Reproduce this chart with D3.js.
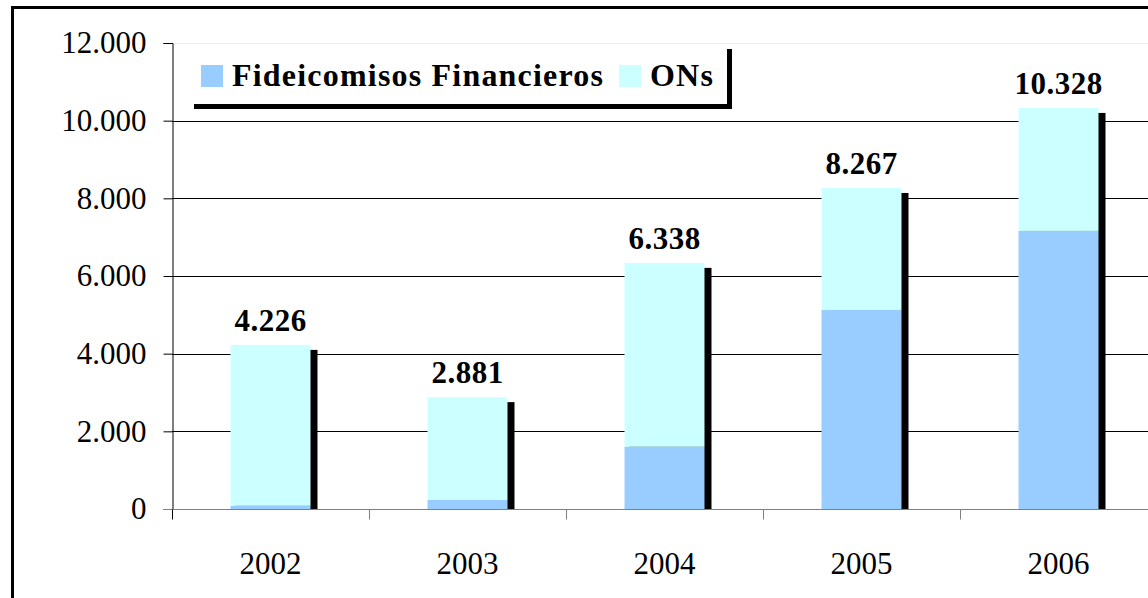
<!DOCTYPE html>
<html>
<head>
<meta charset="utf-8">
<script src="https://cdn.jsdelivr.net/npm/d3@7"></script>
<style>
    body { margin: 0; background: #fff; }
    svg { display: block; }
    text { font-family: "Liberation Serif", "Times New Roman", serif; }
</style>
</head>
<body>
<svg width="1148" height="598"></svg>
<script>
const years = ["2002", "2003", "2004", "2005", "2006"];
const fideicomisos = [80, 232, 1600, 5125, 7160];
const totals = [4226, 2881, 6338, 8267, 10328];
const yTicks = [0, 2000, 4000, 6000, 8000, 10000, 12000];
const seriesNames = ["Fideicomisos Financieros", "ONs"];
const seriesColors = ["#99ccff", "#ccffff"];

const svg = d3.select("svg");

const plotLeft = 172, plotRight = 1157, plotTop = 43, plotBottom = 509;

const x = d3.scaleBand().domain(years).range([plotLeft, plotRight]);
const y = d3.scaleLinear().domain([0, 12000]).range([plotBottom, plotTop]);
const barW = x.bandwidth() * 0.406;

const locale = d3.formatLocale({decimal: ",", thousands: ".", grouping: [3], currency: ["", ""]});
const fmt = locale.format(",d");

let rows = years.map((year, i) => ({
    year,
    ff: fideicomisos[i],
    total: totals[i],
}));

// outer frame
svg.append("rect")
    .attr("x", 12.5).attr("y", 7.5)
    .attr("width", 1160).attr("height", 620)
    .attr("fill", "none")
    .attr("stroke", "#000")
    .attr("stroke-width", 3);

// faint plot area top
svg.append("line")
    .attr("x1", plotLeft).attr("x2", 1148)
    .attr("y1", plotTop + 0.5).attr("y2", plotTop + 0.5)
    .attr("stroke", "#eeeeee");

// gridlines
svg.append("g")
    .selectAll("line")
    .data(yTicks.filter(t => t > 0 && t < 12000))
    .enter().append("line")
    .attr("x1", plotLeft).attr("x2", 1148)
    .attr("y1", d => Math.round(y(d)) + 0.5)
    .attr("y2", d => Math.round(y(d)) + 0.5)
    .attr("stroke", "#000");

// shadows
svg.append("g")
    .selectAll("rect")
    .data(rows)
    .enter().append("rect")
    .attr("x", d => x(d.year) + (x.bandwidth() - barW) / 2 + 5)
    .attr("y", d => y(d.total) + 5)
    .attr("width", barW + 2)
    .attr("height", d => plotBottom + 1 - y(d.total) - 5)
    .attr("fill", "#000");

// ONs (top part)
svg.append("g")
    .selectAll("rect")
    .data(rows)
    .enter().append("rect")
    .attr("x", d => x(d.year) + (x.bandwidth() - barW) / 2)
    .attr("y", d => y(d.total))
    .attr("width", barW)
    .attr("height", d => y(d.ff) - y(d.total))
    .attr("fill", seriesColors[1]);

// Fideicomisos (bottom part)
svg.append("g")
    .selectAll("rect")
    .data(rows)
    .enter().append("rect")
    .attr("x", d => x(d.year) + (x.bandwidth() - barW) / 2)
    .attr("y", d => y(d.ff))
    .attr("width", barW)
    .attr("height", d => plotBottom - y(d.ff))
    .attr("fill", seriesColors[0]);

// value labels
svg.append("g")
    .selectAll("text")
    .data(rows)
    .enter().append("text")
    .attr("x", d => x(d.year) + x.bandwidth() / 2)
    .attr("y", d => y(d.total) - 14)
    .attr("text-anchor", "middle")
    .style("font-size", "31px")
    .style("font-weight", "bold")
    .style("letter-spacing", "0.5px")
    .text(d => fmt(d.total));

// y axis
const yAxis = svg.append("g")
    .attr("transform", `translate(${plotLeft + 0.5},0)`)
    .call(d3.axisLeft(y).tickValues(yTicks).tickFormat(fmt).tickSize(9).tickPadding(17));
yAxis.select(".domain").attr("stroke", "#000");
yAxis.selectAll(".tick line").attr("stroke", "#000");
yAxis.selectAll("text")
    .style("font-size", "31px")
    .style("font-family", "\"Liberation Serif\", serif")
    .attr("fill", "#000");

// x axis
const xAxis = svg.append("g")
    .attr("transform", `translate(0,${plotBottom + 0.5})`);
xAxis.append("line")
    .attr("x1", plotLeft - 9).attr("x2", 1148)
    .attr("stroke", "#808080");
xAxis.selectAll("line.tick")
    .data(years.concat(["end"]))
    .enter().append("line")
    .attr("class", "tick")
    .attr("x1", (d, i) => Math.round(plotLeft + i * x.step()) + 0.5)
    .attr("x2", (d, i) => Math.round(plotLeft + i * x.step()) + 0.5)
    .attr("y1", 0).attr("y2", 10)
    .attr("stroke", (d, i) => i === 0 ? "#000" : "#808080");
xAxis.selectAll("text")
    .data(years)
    .enter().append("text")
    .attr("x", d => x(d) + x.bandwidth() / 2)
    .attr("y", 64)
    .attr("text-anchor", "middle")
    .style("font-size", "31px")
    .text(d => d);

// legend
const legend = svg.append("g");
legend.append("rect")
    .attr("x", 194).attr("y", 49)
    .attr("width", 538).attr("height", 60)
    .attr("fill", "#000");
legend.append("rect")
    .attr("x", 189).attr("y", 44)
    .attr("width", 538).attr("height", 60)
    .attr("fill", "#fff");

const legendX = [201, 619];
seriesNames.forEach((name, i) => {
    legend.append("rect")
        .attr("x", legendX[i]).attr("y", 65)
        .attr("width", 22).attr("height", 22)
        .attr("fill", seriesColors[i]);
    legend.append("text")
        .attr("x", legendX[i] + 31).attr("y", 86)
        .style("font-size", "32px")
        .style("font-weight", "bold")
        .style("letter-spacing", "1.2px")
        .text(name);
});
</script>
</body>
</html>
